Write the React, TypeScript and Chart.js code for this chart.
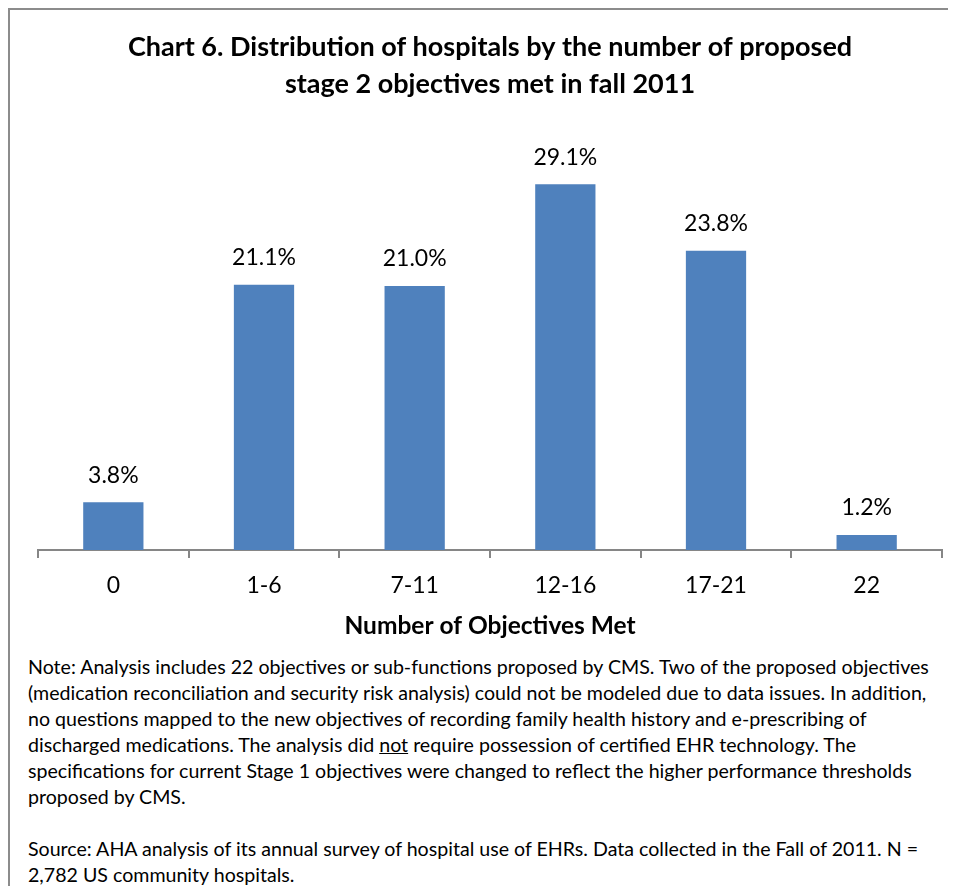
import React, { useEffect, useRef } from "react";
import { Chart, registerables } from "chart.js";

Chart.register(...registerables);

const categories = ["0", "1-6", "7-11", "12-16", "17-21", "22"];
const shares = [3.8, 21.1, 21.0, 29.1, 23.8, 1.2];
const titleLines = [
  "Chart 6. Distribution of hospitals by the number of proposed",
  "stage 2 objectives met in fall 2011",
];
const xAxisTitle = "Number of Objectives Met";

const FONT = "Lato, 'Open Sans', sans-serif";

const valueLabels = {
  id: "valueLabels",
  afterDatasetsDraw(chart: any) {
    const ctx = chart.ctx;
    const meta = chart.getDatasetMeta(0);
    ctx.save();
    ctx.font = `23px ${FONT}`;
    ctx.fillStyle = "#000000";
    ctx.textAlign = "center";
    ctx.textBaseline = "middle";
    meta.data.forEach((bar: any, i: number) => {
      const v = chart.data.datasets[0].data[i] as number;
      ctx.fillText(v.toFixed(1) + "%", bar.x, bar.y - 27);
    });
    ctx.restore();
  },
};

export default function App() {
  const ref = useRef<HTMLCanvasElement>(null);

  useEffect(() => {
    if (!ref.current) return;
    const chart = new Chart(ref.current, {
      type: "bar",
      data: {
        labels: categories,
        datasets: [
          {
            data: shares,
            backgroundColor: "#4F81BD",
            borderWidth: 0,
            barPercentage: 0.4,
            categoryPercentage: 1,
          },
        ],
      },
      options: {
        animation: false,
        responsive: false,
        layout: { padding: { left: 28, right: 14, top: 0, bottom: 0 } },
        plugins: {
          legend: { display: false },
          tooltip: { enabled: false },
          title: {
            display: true,
            text: titleLines,
            color: "#000000",
            font: { family: FONT, size: 27, weight: "bold", lineHeight: 1.37 },
            padding: { top: 19, bottom: 7 },
          },
        },
        scales: {
          y: {
            display: false,
            min: 0,
            max: 35,
          },
          x: {
            afterFit: (scale: any) => {
              scale.height = 100;
            },
            grid: {
              display: true,
              drawOnChartArea: false,
              drawTicks: true,
              tickLength: 8,
              color: "#868686",
              lineWidth: 2,
              offset: true,
            },
            border: { display: true, color: "#868686", width: 2 },
            ticks: {
              color: "#000000",
              font: { family: FONT, size: 23 },
              padding: 14,
            },
            title: {
              display: true,
              text: xAxisTitle,
              color: "#000000",
              font: { family: FONT, size: 24.5, weight: "bold" },
              padding: { top: 0, bottom: 9 },
            },
          },
        },
      },
      plugins: [valueLabels],
    });
    return () => chart.destroy();
  }, []);

  return (
    <div
      style={{
        width: 946,
        height: 876,
        overflow: "hidden",
        borderLeft: "2px solid #8c8c8c",
        borderTop: "2px solid #8c8c8c",
        background: "#ffffff",
      }}
    >
      <canvas ref={ref} width={946} height={640} style={{ display: "block" }} />
      <div
        style={{
          fontFamily: FONT,
          fontSize: 19.6,
          lineHeight: "26px",
          color: "#000000",
          paddingLeft: 18,
          marginTop: 4,
          whiteSpace: "nowrap",
        }}
      >
        Note: Analysis includes 22 objectives or sub-functions proposed by CMS. Two of the proposed objectives
        <br />
        (medication reconciliation and security risk analysis) could not be modeled due to data issues. In addition,
        <br />
        no questions mapped to the new objectives of recording family health history and e-prescribing of
        <br />
        discharged medications. The analysis did <u>not</u> require possession of certified EHR technology. The
        <br />
        specifications for current Stage 1 objectives were changed to reflect the higher performance thresholds
        <br />
        proposed by CMS.
        <br />
        <br />
        Source: AHA analysis of its annual survey of hospital use of EHRs. Data collected in the Fall of 2011. N =
        <br />
        2,782 US community hospitals.
      </div>
    </div>
  );
}
